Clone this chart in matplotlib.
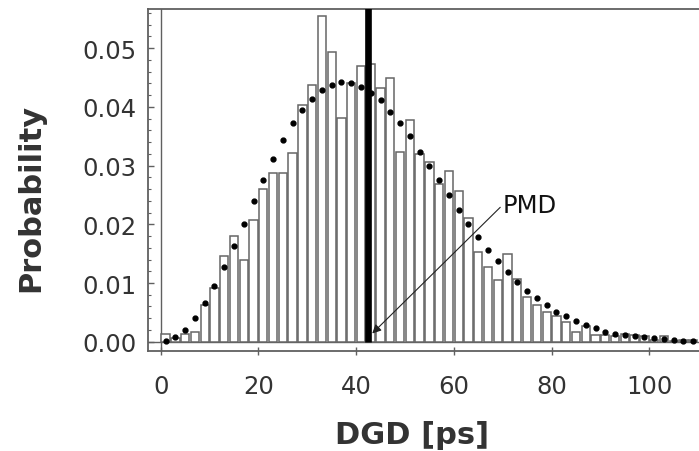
import numpy as np
import matplotlib
matplotlib.use("Agg")
import matplotlib.pyplot as plt
from matplotlib.ticker import MultipleLocator

# bin centres of the DGD histogram [ps]
dgd = np.arange(1, 111, 2)

# measured probability per bin
measured = [0.0013, 0.0007, 0.0013, 0.0017, 0.0062, 0.0091, 0.0146, 0.0180,
            0.0140, 0.0208, 0.0260, 0.0287, 0.0287, 0.0321, 0.0403, 0.0437,
            0.0555, 0.0493, 0.0381, 0.0440, 0.0470, 0.0473, 0.0432, 0.0450,
            0.0323, 0.0377, 0.0320, 0.0306, 0.0269, 0.0290, 0.0256, 0.0211,
            0.0152, 0.0128, 0.0105, 0.0149, 0.0107, 0.0076, 0.0062, 0.0050,
            0.0043, 0.0034, 0.0016, 0.0027, 0.0012, 0.0012, 0.0010, 0.0013,
            0.0012, 0.0010, 0.0003, 0.0010, 0.0002, 0.0003, 0.0003]

# theoretical (Maxwellian) probability per bin
theory = [0.0001, 0.0008, 0.0020, 0.0040, 0.0066, 0.0095, 0.0128, 0.0163,
          0.0200, 0.0239, 0.0276, 0.0311, 0.0343, 0.0372, 0.0395, 0.0414,
          0.0429, 0.0437, 0.0442, 0.0441, 0.0434, 0.0424, 0.0411, 0.0392,
          0.0373, 0.0350, 0.0324, 0.0300, 0.0275, 0.0250, 0.0225, 0.0201,
          0.0178, 0.0157, 0.0137, 0.0119, 0.0102, 0.0087, 0.0074, 0.0062,
          0.0051, 0.0043, 0.0035, 0.0028, 0.0023, 0.0017, 0.0014, 0.0011,
          0.0010, 0.0008, 0.0006, 0.0005, 0.0003, 0.0002, 0.0002]

pmd = 42.4
xticks = [0, 20, 40, 60, 80, 100]
yticks = [0.00, 0.01, 0.02, 0.03, 0.04, 0.05]

txt = "#333333"
grey = "#606060"

fig = plt.figure(figsize=(6.99, 4.52), dpi=100)
ax = fig.add_axes([148 / 699, 1 - 351.7 / 452, 554.5 / 699, 341.7 / 452])

ax.bar(dgd, measured, width=1.7, color="white", edgecolor="#666666",
       linewidth=1.1, zorder=2)
ax.plot(dgd, theory, "o", color="black", ms=3.5, zorder=4)

ax.axhline(0, color=grey, lw=1.0, zorder=1)
ax.axvline(0, color=grey, lw=1.0, zorder=1)
ax.plot([pmd, pmd], [0, 0.06], color="black", lw=4.8, zorder=5,
        solid_capstyle="butt")

ax.annotate("", xy=(43.3, 0.0014), xytext=(69.5, 0.0229),
            arrowprops=dict(arrowstyle="-|>", color="#222222", lw=0.8,
                            mutation_scale=13, shrinkA=0, shrinkB=0),
            zorder=6)
ax.text(70.0, 0.0233, "PMD", fontsize=17.5, color="#111111",
        ha="left", va="center", zorder=6)

ax.set_xlim(-2.6, 110.9)
ax.set_ylim(-0.00153, 0.05668)
ax.set_xticks(xticks)
ax.set_xticklabels([str(v) for v in xticks])
ax.set_yticks(yticks)
ax.set_yticklabels(["%.2f" % v for v in yticks])
ax.yaxis.set_minor_locator(MultipleLocator(0.002))

ax.tick_params(axis="y", which="major", direction="in", length=4.5,
               width=1.0, color=grey, labelsize=17.5, labelcolor=txt, pad=8)
ax.tick_params(axis="y", which="minor", direction="in", length=2.5,
               width=0.8, color=grey)
ax.tick_params(axis="x", which="major", direction="inout", length=6,
               width=1.0, color=grey, labelsize=17.5, labelcolor=txt, pad=14)
ax.tick_params(right=False, top=False)

for s in ax.spines.values():
    s.set_color(grey)
    s.set_linewidth(1.3)

fig.text(411.7 / 699, 1 - 436 / 452, "DGD [ps]", fontsize=22,
         fontweight="bold", color=txt, ha="center", va="center")
fig.text(31 / 699, 1 - 197.5 / 452, "Probability", fontsize=22,
         fontweight="bold", color=txt, ha="center", va="center",
         rotation=90)

fig.savefig("out.png", dpi=100)
